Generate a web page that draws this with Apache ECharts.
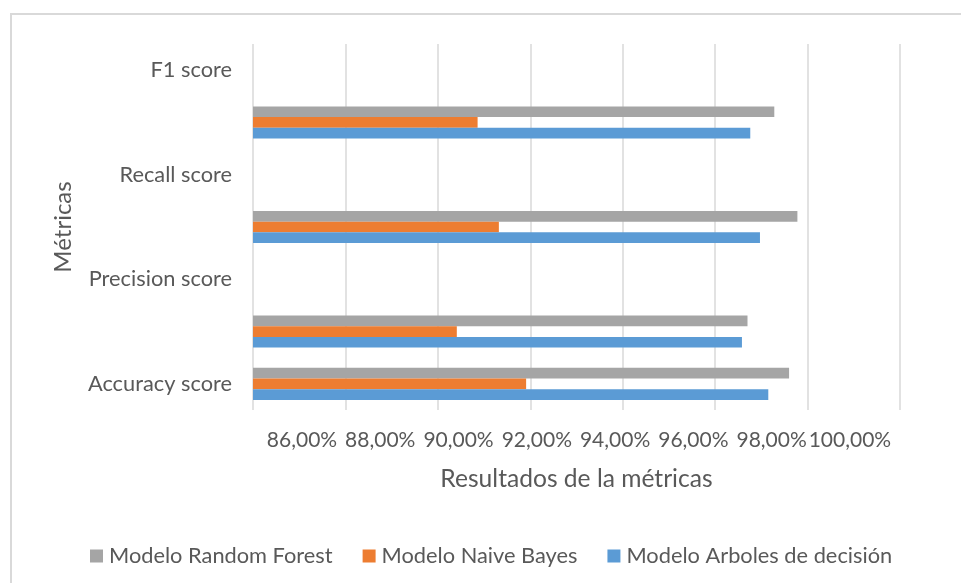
<!DOCTYPE html>
<html>
<head>
<meta charset="utf-8">
<script src="https://cdn.jsdelivr.net/npm/echarts@6/dist/echarts.min.js"></script>
<style>
  html, body { margin: 0; padding: 0; background: #fff; }
  #chart { width: 961px; height: 583px; }
</style>
</head>
<body>
<div id="chart"></div>
<script>
// Metric rows, bottom to top (every other row carries the bars)
const categories = ['Accuracy score', '', 'Precision score', '', 'Recall score', '', 'F1 score'];

// Scores in percent for each model
const arbolesDecision = [97.15, 96.58, null, 96.97, null, 96.76, null];
const naiveBayes      = [91.91, 90.41, null, 91.32, null, 90.86, null];
const randomForest    = [97.60, 96.70, null, 97.78, null, 97.28, null];

// Values printed under the horizontal axis
const tickValues = [86, 88, 90, 92, 94, 96, 98, 100];

const seriesNames = {
  forest: 'Modelo Random Forest',
  naive: 'Modelo Naive Bayes',
  arboles: 'Modelo Arboles de decisión'
};

const FONT = 'Lato, "Open Sans", sans-serif';
const TEXT = '#595959';

const fmtPct = v => v.toFixed(2).replace('.', ',') + '%';

const chart = echarts.init(document.getElementById('chart'), null, { renderer: 'canvas' });

chart.setOption({
  backgroundColor: '#ffffff',
  animation: false,
  textStyle: { fontFamily: FONT },
  graphic: [{
    type: 'rect',
    shape: { x: 11, y: 14, width: 1000, height: 620 },
    style: { fill: 'none', stroke: '#d9d9d9', lineWidth: 2 },
    silent: true
  }],
  grid: { left: 253, right: 61, top: 44, bottom: 173, containLabel: false },
  legend: {
    data: [seriesNames.forest, seriesNames.naive, seriesNames.arboles],
    left: 85,
    top: 540,
    icon: 'rect',
    itemWidth: 13,
    itemHeight: 13,
    itemGap: 30,
    textStyle: { color: TEXT, fontSize: 21.8, fontFamily: FONT, padding: [0, 0, 0, 1] }
  },
  xAxis: [{
    type: 'value',
    min: 86,
    max: 100,
    interval: 2,
    name: 'Resultados de la métricas',
    nameLocation: 'middle',
    nameGap: 57,
    nameTextStyle: { color: TEXT, fontSize: 24.6, fontFamily: FONT },
    axisLine: { show: false },
    axisTick: { show: false },
    axisLabel: { show: false },
    splitLine: { show: true, lineStyle: { color: '#d9d9d9', width: 1.5 } }
  }, {
    // label row under the plot area
    type: 'value',
    position: 'bottom',
    min: 84.748,
    max: 101.28,
    axisLine: { show: false },
    axisTick: { show: false },
    splitLine: { show: false },
    axisLabel: {
      show: true,
      customValues: tickValues,
      formatter: v => fmtPct(v),
      color: TEXT,
      fontSize: 21,
      fontFamily: FONT,
      margin: 20
    }
  }],
  yAxis: {
    type: 'category',
    data: categories,
    name: 'Métricas',
    nameLocation: 'middle',
    nameGap: 178,
    nameRotate: 90,
    nameTextStyle: { color: TEXT, fontSize: 24, fontFamily: FONT },
    axisLine: { show: false },
    axisTick: { show: false },
    splitLine: { show: false },
    axisLabel: {
      interval: 0,
      color: TEXT,
      fontSize: 21.8,
      fontFamily: FONT,
      margin: 21
    }
  },
  series: [{
    name: seriesNames.forest,
    type: 'bar',
    data: randomForest,
    barWidth: 10.7,
    barGap: '0%',
    itemStyle: { color: '#A5A5A5' }
  }, {
    name: seriesNames.naive,
    type: 'bar',
    data: naiveBayes,
    barWidth: 10.7,
    barGap: '0%',
    itemStyle: { color: '#ED7D31' }
  }, {
    name: seriesNames.arboles,
    type: 'bar',
    data: arbolesDecision,
    barWidth: 10.7,
    barGap: '0%',
    itemStyle: { color: '#5B9BD5' }
  }]
});
</script>
</body>
</html>
